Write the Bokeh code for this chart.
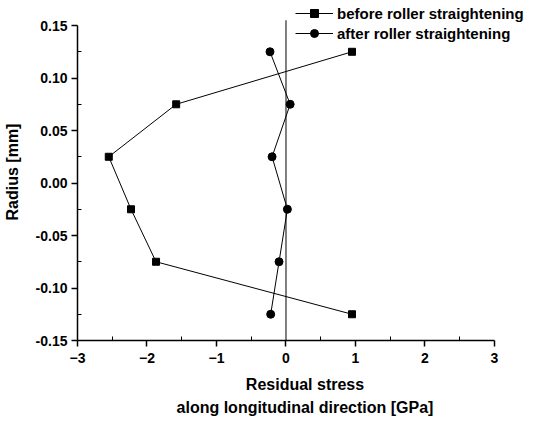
from bokeh.plotting import figure
from bokeh.models import Legend, LegendItem, FixedTicker, Range1d
from bokeh.embed import file_html
from bokeh.resources import INLINE

radius = [0.125, 0.075, 0.025, -0.025, -0.075, -0.125]
before = [0.95, -1.58, -2.55, -2.23, -1.87, 0.95]
after = [-0.23, 0.06, -0.20, 0.02, -0.10, -0.22]
zero_x = [0, 0]
zero_y = [-0.15, 0.155]
x_ticks = [-3, -2, -1, 0, 1, 2, 3]
x_minor = [-2.5, -1.5, -0.5, 0.5, 1.5, 2.5]
y_ticks = [-0.15, -0.10, -0.05, 0.00, 0.05, 0.10, 0.15]
y_minor = [-0.125, -0.075, -0.025, 0.025, 0.075, 0.125]
y_labels = {-0.15: "-0.15", -0.10: "-0.10", -0.05: "-0.05", 0.0: "0.00",
            0.05: "0.05", 0.10: "0.10", 0.15: "0.15"}

FONT = "Liberation Sans"

p = figure(width=532, height=419, output_backend="svg", toolbar_location=None,
           x_range=Range1d(-3, 3.547), y_range=Range1d(-0.15, 0.171),
           min_border_left=77, min_border_right=0, min_border_top=3, min_border_bottom=2)
p.outline_line_color = None
p.xgrid.visible = False
p.ygrid.visible = False
p.background_fill_color = "white"

p.line(zero_x, zero_y, line_color="black", line_width=1)

l1 = p.line(before, radius, line_color="black", line_width=1)
m1 = p.scatter(before, radius, marker="square", size=7, color="black")
l2 = p.line(after, radius, line_color="black", line_width=1)
m2 = p.scatter(after, radius, marker="circle", size=8, color="black")

legend = Legend(items=[LegendItem(label="before roller straightening", renderers=[l1, m1]),
                       LegendItem(label="after roller straightening", renderers=[l2, m2])],
                location=(218, 297), border_line_color=None, background_fill_alpha=0,
                label_text_font=FONT, label_text_font_style="bold", label_text_font_size="15px",
                label_text_color="black",
                glyph_width=38, glyph_height=20, label_height=20, spacing=0, padding=0, margin=0,
                label_standoff=4)
p.add_layout(legend, "center")

for ax in (p.xaxis[0], p.yaxis[0]):
    ax.axis_line_width = 1.5
    ax.axis_line_color = "black"
    ax.major_tick_line_color = "black"
    ax.minor_tick_line_color = "black"
    ax.major_tick_line_width = 1.5
    ax.major_tick_out = 6
    ax.major_tick_in = 0
    ax.minor_tick_in = 4
    ax.minor_tick_out = 0
    ax.major_label_text_font = FONT
    ax.major_label_text_font_style = "bold"
    ax.major_label_text_font_size = "14px"
    ax.major_label_text_color = "black"
    ax.axis_label_text_font = FONT
    ax.axis_label_text_font_style = "bold"
    ax.axis_label_text_font_size = "16px"
    ax.axis_label_text_color = "black"

p.xaxis.ticker = FixedTicker(ticks=x_ticks, minor_ticks=x_minor)
p.yaxis.ticker = FixedTicker(ticks=y_ticks, minor_ticks=y_minor)
p.xaxis.bounds = (-3, 3)
p.yaxis.bounds = (-0.15, 0.15)
p.xaxis.major_label_standoff = 6
p.yaxis.major_label_standoff = 4
p.yaxis.major_label_overrides = y_labels
p.yaxis.axis_label = "Radius [mm]"
p.yaxis.axis_label_standoff = 12
p.xaxis.axis_label = "Residual stress\nalong longitudinal direction [GPa]"
p.xaxis.axis_label_standoff = 10
p.xaxis.axis_label_text_line_height = 1.4

open("out.html", "w").write(file_html(p, INLINE))
